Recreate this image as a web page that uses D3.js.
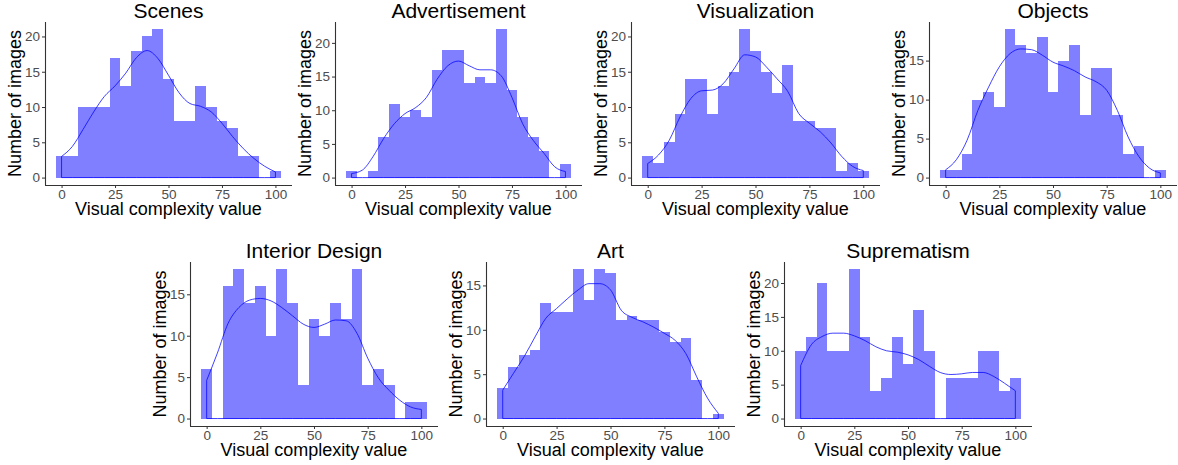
<!DOCTYPE html>
<html>
<head>
<meta charset="utf-8">
<script src="https://cdn.jsdelivr.net/npm/d3@7"></script>
<style>
    body { margin: 0; background: #fff; }
    svg { display: block; font-family: "Liberation Sans", Arial, sans-serif; }
</style>
</head>
<body>
<svg width="1178" height="465"></svg>
<script>
// bins are 5 wide, centred on these values
const binCenters = [0, 5, 10, 15, 20, 25, 30, 35, 40, 45, 50, 55, 60, 65, 70, 75, 80, 85, 90, 95, 100];
// density curve read at the same x positions
const densityX = [0, 5, 10, 15, 20, 25, 30, 35, 40, 45, 50, 55, 60, 65, 70, 75, 80, 85, 90, 95, 100];
const xTicks = [0, 25, 50, 75, 100];
const yTicks = [0, 5, 10, 15, 20];

const titles = ["Scenes", "Advertisement", "Visualization", "Objects", "Interior Design", "Art", "Suprematism"];

const scenesCounts = [3, 3, 10, 10, 10, 17, 13, 18, 20, 21, 14, 8, 8, 13, 10, 8, 7, 3, 3, 0, 1];
const scenesDensity = [3.0, 4.4, 6.8, 9.3, 11.5, 13.0, 14.8, 17.0, 18.0, 16.9, 14.5, 12.0, 10.5, 10.1, 9.3, 7.7, 5.8, 4.1, 2.7, 1.6, 0.8];

const advertCounts = [1, 0, 1, 6, 11, 9, 10, 9, 16, 19, 19, 14, 15, 14, 22, 13, 9, 6, 4, 0, 2];
const advertDensity = [0.6, 1.1, 3.1, 5.8, 8.0, 9.5, 10.4, 11.9, 14.6, 16.6, 17.3, 16.6, 16.0, 16.0, 15.1, 11.9, 8.0, 5.5, 3.6, 1.6, 0.9];

const visCounts = [3, 2, 5, 9, 14, 14, 9, 13, 15, 21, 18, 15, 12, 16, 8, 8, 7, 7, 1, 2, 1];
const visDensity = [2.0, 3.2, 5.3, 8.6, 11.2, 12.3, 12.4, 13.3, 15.4, 17.4, 17.1, 15.7, 14.0, 12.2, 9.1, 7.7, 6.5, 4.9, 3.0, 1.6, 1.0];

const objectsCounts = [1, 1, 3, 10, 11, 9, 19, 17, 16, 18, 11, 15, 17, 8, 14, 14, 8, 3, 4, 0, 1];
const objectsDensity = [1.0, 2.3, 4.8, 8.6, 11.6, 14.2, 15.9, 16.5, 16.4, 15.7, 14.8, 14.3, 13.7, 12.9, 12.3, 11.2, 8.6, 5.2, 2.7, 1.2, 0.6];

const interiorCounts = [6, 0, 16, 18, 14, 16, 10, 18, 14, 4, 12, 10, 14, 12, 18, 4, 6, 4, 0, 2, 2];
const interiorDensity = [4.6, 7.9, 11.5, 13.4, 14.3, 14.5, 14.2, 13.4, 12.4, 11.4, 11.0, 11.4, 11.9, 11.8, 10.3, 7.3, 4.9, 3.4, 2.2, 1.4, 1.1];

const artCounts = [3.4, 5.8, 7.2, 7.7, 13.0, 12.0, 12.0, 16.8, 13.4, 16.8, 16.4, 11.1, 11.5, 11.1, 11.1, 9.7, 8.6, 9.1, 4.3, 0, 0.5];
const artDensity = [3.2, 5.1, 7.0, 9.2, 11.3, 12.4, 13.5, 14.5, 15.2, 15.2, 14.5, 12.2, 11.4, 10.9, 10.3, 9.6, 8.8, 7.3, 4.7, 2.3, 0.6];

const supremCounts = [10, 12, 20, 10, 10, 22, 12, 4, 6, 12, 8, 16, 10, 0, 6, 6, 6, 10, 10, 4, 6];
const supremDensity = [7.8, 10.9, 12.1, 12.6, 12.6, 12.2, 11.5, 10.6, 10.0, 9.8, 9.4, 8.7, 7.7, 6.8, 6.5, 6.6, 6.8, 6.8, 6.2, 5.2, 4.1];

// plot rectangles (left/right of the panel, top/bottom of the plotting area)
const panels = [
    { title: titles[0], counts: scenesCounts, density: scenesDensity, left: 45, right: 292, top: 22, bottom: 185 },
    { title: titles[1], counts: advertCounts, density: advertDensity, left: 335, right: 582, top: 22, bottom: 185 },
    { title: titles[2], counts: visCounts, density: visDensity, left: 631, right: 880, top: 22, bottom: 185 },
    { title: titles[3], counts: objectsCounts, density: objectsDensity, left: 929, right: 1177, top: 22, bottom: 185 },
    { title: titles[4], counts: interiorCounts, density: interiorDensity, left: 190, right: 438, top: 262, bottom: 426 },
    { title: titles[5], counts: artCounts, density: artDensity, left: 486, right: 735, top: 262, bottom: 426 },
    { title: titles[6], counts: supremCounts, density: supremDensity, left: 784, right: 1032, top: 262, bottom: 426 }
];

const svg = d3.select("svg");
const binWidth = 5;

panels.forEach(p => {
    const g = svg.append("g");

    // ggplot-style 5% expansion around the data
    const xMin = binCenters[0] - binWidth / 2, xMax = binCenters[binCenters.length - 1] + binWidth / 2;
    const xPad = (xMax - xMin) * 0.05;
    const x = d3.scaleLinear()
        .domain([xMin - xPad, xMax + xPad])
        .range([p.left, p.right]);

    const yMax = Math.max(d3.max(p.counts), d3.max(p.density));
    const y = d3.scaleLinear()
        .domain([-yMax * 0.05, yMax * 1.05])
        .range([p.bottom, p.top]);

    const bins = binCenters.map((c, i) => ({ c, n: p.counts[i] })).filter(d => d.n > 0);

    g.selectAll("rect.bar")
        .data(bins)
        .join("rect")
        .attr("class", "bar")
        .attr("x", d => x(d.c - binWidth / 2))
        .attr("width", d => x(d.c + binWidth / 2) - x(d.c - binWidth / 2))
        .attr("y", d => y(d.n))
        .attr("height", d => y(0) - y(d.n))
        .attr("fill", "rgba(0,0,255,0.5)")
        .attr("shape-rendering", "crispEdges");

    const dens = densityX.map((v, i) => ({ v, d: p.density[i] }));
    g.append("path")
        .datum(dens)
        .attr("fill", "none")
        .attr("stroke", "blue")
        .attr("stroke-opacity", 0.75)
        .attr("stroke-width", 1)
        .attr("d", d3.area()
            .curve(d3.curveMonotoneX)
            .x(d => x(d.v))
            .y0(y(0))
            .y1(d => y(d.d)));

    // axes
    const xAxis = g.append("g")
        .attr("transform", `translate(0,${p.bottom})`)
        .call(d3.axisBottom(x).tickValues(xTicks).tickSize(3).tickPadding(1));
    const yAxis = g.append("g")
        .attr("transform", `translate(${p.left},0)`)
        .call(d3.axisLeft(y).tickValues(yTicks.filter(t => t <= yMax * 1.05)).tickSize(3).tickPadding(2));

    [xAxis, yAxis].forEach(a => {
        a.select(".domain").attr("stroke", "#333").attr("stroke-width", 1.1);
        a.selectAll(".tick line").attr("stroke", "#333");
        a.selectAll(".tick text")
            .attr("fill", "#4d4d4d")
            .style("font-size", "13.5px")
            .style("font-family", "'Liberation Sans', Arial, sans-serif");
    });
    xAxis.select(".domain").attr("d", `M${p.left},0.5H${p.right}`);
    yAxis.select(".domain").attr("d", `M0.5,${p.top}V${p.bottom}`);

    g.append("text")
        .attr("x", (p.left + p.right) / 2)
        .attr("y", p.top - 4)
        .attr("text-anchor", "middle")
        .style("font-size", "21px")
        .text(p.title);

    g.append("text")
        .attr("x", (p.left + p.right) / 2)
        .attr("y", p.bottom + 30)
        .attr("text-anchor", "middle")
        .style("font-size", "18px")
        .text("Visual complexity value");

    g.append("text")
        .attr("transform", `translate(${p.left - 24},${(p.top + p.bottom) / 2}) rotate(-90)`)
        .attr("text-anchor", "middle")
        .style("font-size", "18px")
        .text("Number of images");
});
</script>
</body>
</html>
